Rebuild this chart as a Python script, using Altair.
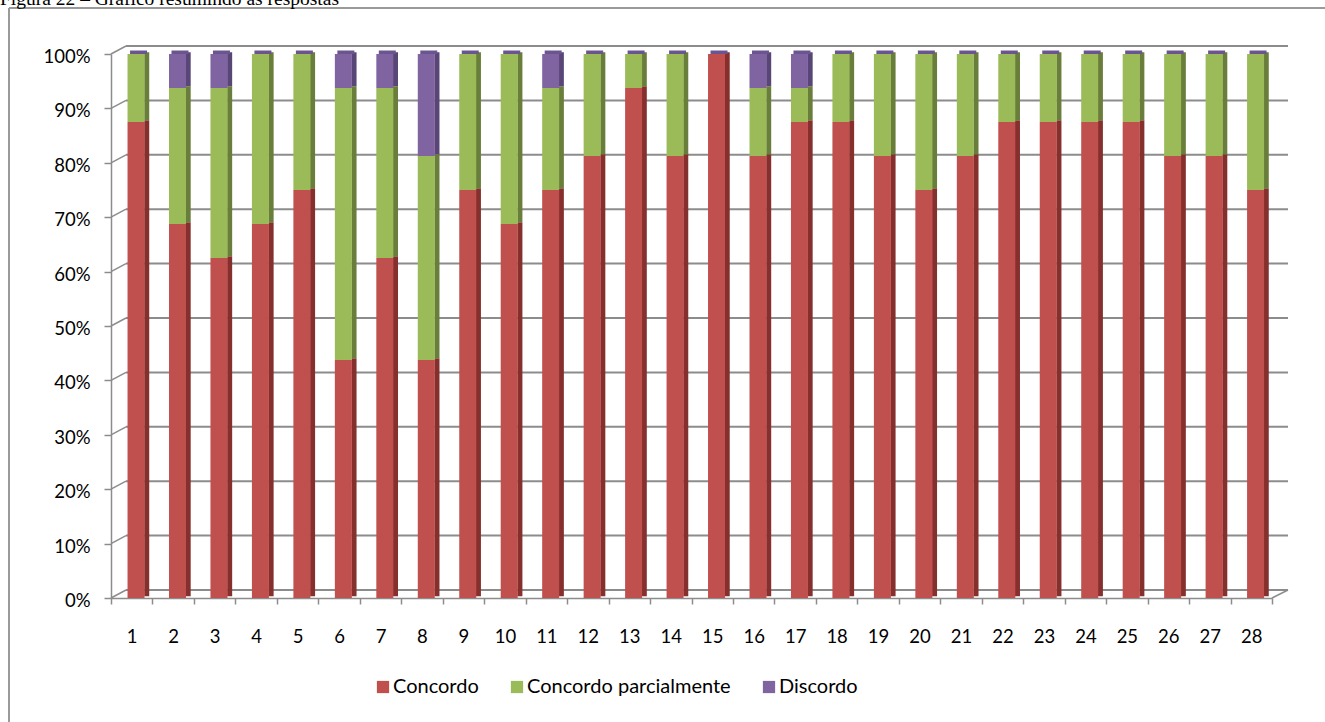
import altair as alt
import pandas as pd

# ---------------- data ----------------
questions = [str(i) for i in range(1, 29)]
categories = ["Concordo", "Concordo parcialmente", "Discordo"]
concordo = [87.5, 68.75, 62.5, 68.75, 75, 43.75, 62.5, 43.75, 75, 68.75, 75, 81.25, 93.75, 81.25,
            100, 81.25, 87.5, 87.5, 81.25, 75, 81.25, 87.5, 87.5, 87.5, 87.5, 81.25, 81.25, 75]
parcial = [12.5, 25, 31.25, 31.25, 25, 50, 31.25, 37.5, 25, 31.25, 18.75, 18.75, 6.25, 18.75,
           0, 12.5, 6.25, 12.5, 18.75, 25, 18.75, 12.5, 12.5, 12.5, 12.5, 18.75, 18.75, 25]
discordo = [0, 6.25, 6.25, 0, 0, 6.25, 6.25, 18.75, 0, 0, 6.25, 0, 0, 0,
            0, 6.25, 6.25, 0, 0, 0, 0, 0, 0, 0, 0, 0, 0, 0]
grid_values = [0, 10, 20, 30, 40, 50, 60, 70, 80, 90, 100]
caption = "Figura 22 – Gráfico resumindo as respostas"

front_colors = ["#C0504D", "#9BBB59", "#8064A2"]
side_colors = ["#86302E", "#687E3A", "#584677"]
top_color = "#6B5591"
line_gray = "#8C8C8C"

rows = []
for i, q in enumerate(questions):
    for k, vals in enumerate([concordo, parcial, discordo]):
        rows.append({"q": q, "cat": categories[k], "ord": k, "pct": vals[i], "side": side_colors[k]})
df = pd.DataFrame(rows)
df_top = pd.DataFrame({"q": questions,
                       "top": [c + p + d for c, p, d in zip(concordo, parcial, discordo)]})
df_grid = pd.DataFrame({"g": grid_values})
df_floor = pd.DataFrame({"g": [0]})
df_cap = pd.DataFrame({"t": [caption]})

# ---------------- layout ----------------
L, T = 111, 54
W, H = 1161, 544
PR = 1325 - L - W
PB = 722 - T - H
FONT = "Lato"

xscale = alt.Scale(domain=questions, paddingInner=0, paddingOuter=0)
yscale = alt.Scale(domain=[0, 100], nice=False)

xaxis = alt.Axis(title=None, labelAngle=0, tickBand="extent", tickSize=6, labelPadding=23,
                 grid=False, labels=True)
yaxis = alt.Axis(title=None, values=grid_values, labelExpr="datum.value + '%'",
                 tickSize=7, labelPadding=14, labelOffset=2.5, grid=False, labels=True)

X = alt.X("q:N", sort=questions, scale=xscale, axis=xaxis)

base = alt.Chart(df).transform_stack(
    stack="pct", groupby=["q"], as_=["y0", "y1"], sort=[alt.SortField("ord")]
)

# back-wall gridlines
grid = alt.Chart(df_grid).mark_rule(color=line_gray, strokeWidth=2, yOffset=-8, y2Offset=-8).encode(
    x=alt.value(15), x2=alt.value(W + 16),
    y=alt.Y("g:Q", scale=yscale, axis=yaxis),
)
# side-wall diagonals
diag = alt.Chart(df_grid).mark_rule(color=line_gray, strokeWidth=1.5, y2Offset=-8).encode(
    x=alt.value(0), x2=alt.value(15),
    y=alt.Y("g:Q", scale=yscale, axis=yaxis), y2="g:Q",
)
floor_right = alt.Chart(df_floor).mark_rule(color=line_gray, strokeWidth=1.5, y2Offset=-8).encode(
    x=alt.value(W), x2=alt.value(W + 16),
    y=alt.Y("g:Q", scale=yscale, axis=yaxis), y2="g:Q",
)

side = base.mark_bar(size=5, xOffset=15, x2Offset=15, yOffset=-1.75, y2Offset=-1.75).encode(
    x=X,
    y=alt.Y("y0:Q", scale=yscale, axis=yaxis), y2="y1:Q",
    color=alt.Color("side:N", scale=None, legend=None),
)

topcap = alt.Chart(df_top).mark_bar(size=17, xOffset=6.8, x2Offset=6.8, yOffset=-3.5,
                                     color=top_color).encode(
    x=X,
    y=alt.Y("top:Q", scale=yscale, axis=yaxis), y2="top:Q",
)

front = base.mark_bar(size=17, xOffset=4.3, x2Offset=4.3).encode(
    x=X,
    y=alt.Y("y0:Q", scale=yscale, axis=yaxis),
    y2="y1:Q",
    color=alt.Color("cat:N", scale=alt.Scale(domain=categories, range=front_colors),
                    legend=alt.Legend(title=None, orient="none", legendX=262, legendY=623,
                                      direction="horizontal", symbolType="square",
                                      symbolSize=150, symbolStrokeWidth=0, symbolOpacity=1,
                                      labelFont=FONT, labelFontSize=20, labelColor="black",
                                      labelLimit=400, columnPadding=28, labelOffset=0)),
    order=alt.Order("ord:Q"),
)

# frame and caption
border_top = alt.Chart(df_floor).mark_rule(color="#9A9A9A", strokeWidth=2).encode(
    x=alt.value(-L + 9), x2=alt.value(W + PR + 5), y=alt.value(-T + 8))
border_left = alt.Chart(df_floor).mark_rule(color="#9A9A9A", strokeWidth=2).encode(
    x=alt.value(-L + 9), y=alt.value(-T + 8), y2=alt.value(H + PB + 5))
cap = alt.Chart(df_cap).mark_text(font="Liberation Serif", fontSize=19.5, align="left",
                                  baseline="alphabetic", color="black").encode(
    x=alt.value(-L), y=alt.value(-T + 5), text="t:N")

chart = alt.layer(
    border_top, border_left, cap, grid, diag, floor_right, side, topcap, front
).resolve_scale(color="independent").properties(
    width=W, height=H,
    padding={"left": L, "top": T, "right": PR, "bottom": PB},
    autosize=alt.AutoSizeParams(type="none"),
    background="white",
).configure_view(stroke=None).configure_axis(
    domainColor=line_gray, tickColor=line_gray, domainWidth=1.5, tickWidth=1.5,
    labelFont=FONT, labelFontSize=18.5, labelColor="black",
)

chart.save("out.html", embed_options={"renderer": "svg", "actions": False})
